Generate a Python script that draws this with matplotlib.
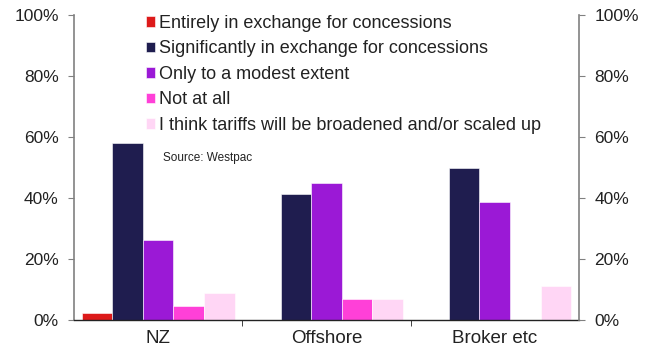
import numpy as np
import matplotlib
matplotlib.use("Agg")
import matplotlib.pyplot as plt
from matplotlib.ticker import PercentFormatter

plt.rcParams['font.family'] = ['Liberation Sans', 'DejaVu Sans']

categories = ["NZ", "Offshore", "Broker etc"]
series_names = [
    "Entirely in exchange for concessions",
    "Significantly in exchange for concessions",
    "Only to a modest extent",
    "Not at all",
    "I think tariffs will be broadened and/or scaled up",
]
entirely = [2.4, 0.0, 0.0]
significantly = [58.0, 41.3, 50.0]
modest = [26.2, 44.8, 38.8]
not_at_all = [4.5, 6.9, 0.0]
broadened = [9.0, 6.9, 11.0]
colors = ["#DD1A1A", "#1F1D4F", "#9B19D6", "#FF40D8", "#FFD6F5"]

values = [entirely, significantly, modest, not_at_all, broadened]

fig = plt.figure(figsize=(6.54, 3.54), dpi=100)
ax = fig.add_axes([0.1131, 0.096, 0.7722, 0.8616])

x = np.arange(len(categories))
n = len(values)
width = 0.182
for i, (vals, name, col) in enumerate(zip(values, series_names, colors)):
    offs = (i - (n - 1) / 2) * width
    ax.bar(x + offs, vals, width, color=col, label=name,
           edgecolor="white", linewidth=0.4)

ax.set_xlim(-0.5, len(categories) - 0.5)
ax.set_ylim(0, 100)
ax.set_yticks(np.arange(0, 101, 20))
ax.yaxis.set_major_formatter(PercentFormatter(decimals=0))

ax.set_xticks(x)
ax.set_xticklabels(categories)
ax.set_xticks(np.arange(0.5, len(categories) - 0.5, 1), minor=True)
ax.tick_params(axis='x', which='major', length=0, labelsize=13.5, pad=7,
               labelcolor="#222222")
ax.tick_params(axis='x', which='minor', length=4, color="#222222")
ax.tick_params(axis='y', length=4, labelsize=12.5, color="#808080",
               labelcolor="#222222", pad=7)

for side in ["top", "right"]:
    ax.spines[side].set_visible(False)
ax.spines["left"].set_color("#808080")
ax.spines["left"].set_linewidth(1.2)
ax.spines["bottom"].set_color("#222222")
ax.spines["bottom"].set_linewidth(1.0)

ax2 = ax.twinx()
ax2.set_ylim(0, 100)
ax2.set_yticks(np.arange(0, 101, 20))
ax2.yaxis.set_major_formatter(PercentFormatter(decimals=0))
ax2.tick_params(axis='y', length=4, labelsize=12.5, color="#808080",
                labelcolor="#222222", pad=7)
for side in ["top", "left", "bottom"]:
    ax2.spines[side].set_visible(False)
ax2.spines["right"].set_color("#808080")
ax2.spines["right"].set_linewidth(1.2)

leg = ax.legend(loc="upper left", bbox_to_anchor=(0.1426, 1.0), frameon=False,
                fontsize=13, handlelength=0.5, handleheight=0.5,
                handletextpad=0.22, labelspacing=0.47, borderaxespad=0,
                borderpad=0)
for t in leg.get_texts():
    t.set_color("#222222")

fig.text(163 / 654, 1 - 158 / 354, "Source: Westpac", fontsize=8.5,
         color="#222222", va="center", ha="left")

fig.savefig("out.png", dpi=100)
